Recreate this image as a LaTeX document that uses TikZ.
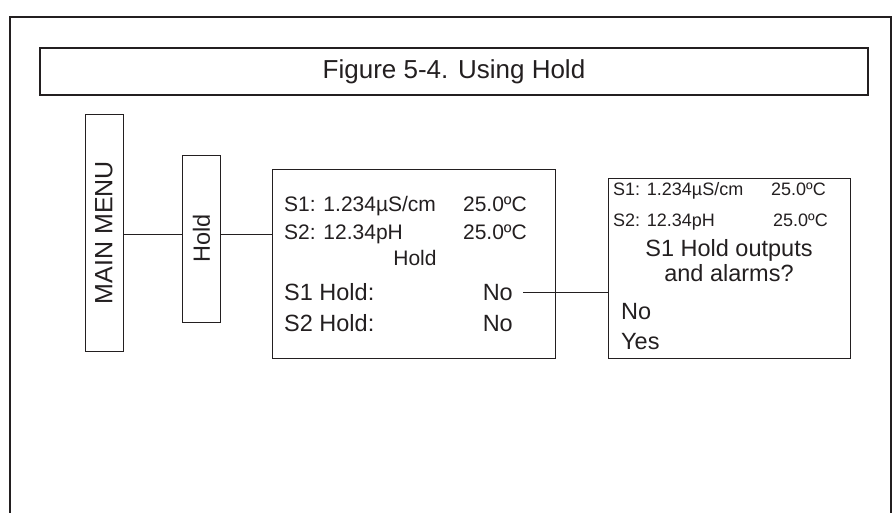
\documentclass[tikz,border=0pt]{standalone}
\usepackage{fontspec}
\setmainfont{Liberation Sans}
\usetikzlibrary{positioning}
\definecolor{ink}{HTML}{231F20}

\begin{document}
\begin{tikzpicture}[x=1pt, y=-1pt, color=ink]
    % Define styles
    \tikzstyle{block} = [rectangle, draw, line width=1pt, inner sep=0pt]
    \tikzstyle{line} = [draw, line width=1pt]
    \tikzstyle{big} = [inner sep=0pt, font=\fontsize{23.5}{26}\selectfont]
    \tikzstyle{mid} = [inner sep=0pt, font=\fontsize{21}{24}\selectfont]
    \tikzstyle{small} = [inner sep=0pt, font=\fontsize{18}{20}\selectfont]

    \useasboundingbox (0,0) rectangle (894,512);

    % Frame and title
    \draw [line width=2pt] (10,520) -- (10,17) -- (891,17) -- (891,520);
    \node [block, line width=2pt, minimum width=828, minimum height=47,
           font=\fontsize{26}{28}\selectfont] (title) at (454,71.5) {Figure 5-4. Using Hold};

    % Menu boxes
    \node [block, rotate=90, minimum width=237, minimum height=38,
           font=\fontsize{25}{27}\selectfont] (mainmenu) at (104,232.5) {MAIN MENU};
    \node [block, rotate=90, minimum width=167, minimum height=38,
           font=\fontsize{23.5}{26}\selectfont] (hold) at (201.5,238.5) {Hold};
    \coordinate (link) at (0,234);

    % Hold screen
    \node [block, minimum width=283, minimum height=189] (holdscreen) at (413.5,264) {};
    \node [mid, anchor=base west] (s1val) at (284,211) {S1: 1.234µS/cm};
    \node [mid, anchor=base east] (s1temp) at (527,211) {25.0ºC};
    \node [mid, anchor=base west] (s2val) at (284,239) {S2: 12.34pH};
    \node [mid, anchor=base east] (s2temp) at (527,239) {25.0ºC};
    \node [mid, anchor=base] (holdtitle) at (415,265) {Hold};
    \node [big, anchor=base west] (s1hold) at (284,300) {S1 Hold:};
    \node [big, anchor=base east] (s1no) at (513,300) {No};
    \node [big, anchor=base west] (s2hold) at (284,331) {S2 Hold:};
    \node [big, anchor=base east] (s2no) at (513,331) {No};

    % Confirm screen
    \node [block, minimum width=242, minimum height=180] (confirm) at (729,268) {};
    \node [small, anchor=base west] (c1val) at (613,195) {S1: 1.234µS/cm};
    \node [small, anchor=base east] (c1temp) at (826,195) {25.0ºC};
    \node [small, anchor=base west] (c2val) at (613,226) {S2: 12.34pH};
    \node [small, anchor=base east] (c2temp) at (828,226) {25.0ºC};
    \node [big, anchor=base] (question) at (729,256) {S1 Hold outputs};
    \node [big, anchor=base] (question2) at (729,281) {and alarms?};
    \node [big, anchor=base west] (cno) at (621,319) {No};
    \node [big, anchor=base west] (cyes) at (621,349) {Yes};

    % Connect components
    \path [line] (mainmenu.south |- link) -- (hold.north |- link);
    \path [line] (hold.south |- link) -- (holdscreen.west |- link);
    \path [line] ([xshift=10]s1no.east) -- (s1no.east -| confirm.west);
\end{tikzpicture}
\end{document}
